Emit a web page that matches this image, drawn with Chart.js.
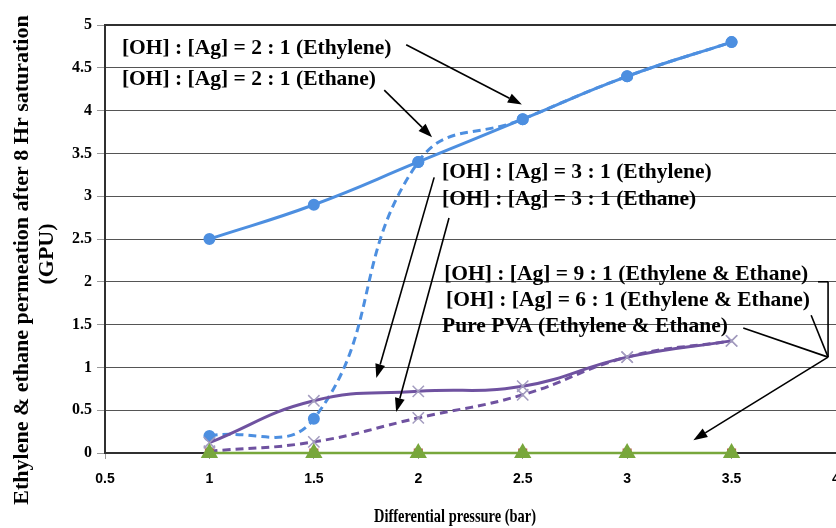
<!DOCTYPE html>
<html><head><meta charset="utf-8">
<script src="https://cdn.jsdelivr.net/npm/chart.js@4.4.1/dist/chart.umd.min.js"></script>
<style>html,body{margin:0;padding:0;overflow:hidden;background:#fff;width:836px;height:528px}canvas{display:block}</style>
</head><body>
<canvas id="c" width="846" height="528"></canvas>
<script>
// ---- data ----
const pressures   = [1, 1.5, 2, 2.5, 3, 3.5];
const ethylene21  = [2.5, 2.9, 3.4, 3.9, 4.4, 4.8];
const ethane21    = [0.2, 0.4, 3.4, 3.9, 4.4, 4.8];
const ethylene31  = [0.12, 0.61, 0.72, 0.78, 1.12, 1.31];
const ethane31    = [0.02, 0.13, 0.41, 0.68, 1.12, 1.31];
const ratio91     = [0, 0, 0, 0, 0, 0];
const ratio61     = [0, 0, 0, 0, 0, 0];
const purePVA     = [0, 0, 0, 0, 0, 0];
const xTickValues = [0.5, 1, 1.5, 2, 2.5, 3, 3.5, 4];
const yTickValues = [0, 0.5, 1, 1.5, 2, 2.5, 3, 3.5, 4, 4.5, 5];
const xTitle = 'Differential pressure (bar)';
const yTitle = ['Ethylene & ethane permeation after 8 Hr saturation', '(GPU)'];

// ---- annotations (data units) ----
const noteTexts = [
  '[OH] : [Ag] = 2 : 1 (Ethylene)',
  '[OH] : [Ag] = 2 : 1 (Ethane)',
  '[OH] : [Ag] = 3 : 1 (Ethylene)',
  '[OH] : [Ag] = 3 : 1 (Ethane)',
  '[OH] : [Ag] = 9 : 1 (Ethylene & Ethane)',
  '[OH] : [Ag] = 6 : 1 (Ethylene & Ethane)',
  'Pure PVA (Ethylene & Ethane)'
];
const noteAtX = [0.581, 0.581, 2.114, 2.114, 2.124, 2.133, 2.114];
const noteAtY = [4.73, 4.36, 3.28, 2.96, 2.09, 1.78, 1.48];
// [x1, y1, x2, y2, arrowhead]
const noteLines = [
  [1.942, 4.77, 2.496, 4.07, 1],
  [1.837, 4.24, 2.066, 3.69, 1],
  [2.076, 3.22, 1.799, 0.876, 1],
  [2.147, 2.745, 1.894, 0.479, 1],
  [3.914, 2.0, 3.962, 2.0, 0],
  [3.962, 2.0, 3.962, 1.12, 0],
  [3.881, 1.61, 3.962, 1.12, 0],
  [3.556, 1.46, 3.962, 1.12, 0],
  [3.962, 1.12, 3.317, 0.15, 1]
];

const pts = arr => pressures.map((p, i) => ({x: p, y: arr[i]}));
const BLUE = '#4d8fe0', PURPLE = '#6f52a0', XMARK = '#a39cbf', GREEN = '#78a73c';
const SERIF = '"Liberation Serif", "Times New Roman", serif';
const SANS = '"Liberation Sans", Arial, sans-serif';

const decor = {
  id: 'decor',
  afterDraw(chart) {
    const {ctx, chartArea: a, scales: {x, y}} = chart;
    ctx.save();
    // top border of plot area
    ctx.strokeStyle = '#303030'; ctx.lineWidth = 2;
    ctx.beginPath(); ctx.moveTo(a.left - 1, a.top); ctx.lineTo(a.right + 10, a.top); ctx.stroke();
    // annotation lines
    ctx.strokeStyle = '#000'; ctx.fillStyle = '#000'; ctx.lineWidth = 1.6;
    noteLines.forEach(([x1, y1, x2, y2, head]) => {
      const X1 = x.getPixelForValue(x1), Y1 = y.getPixelForValue(y1);
      const X2 = x.getPixelForValue(x2), Y2 = y.getPixelForValue(y2);
      const ang = Math.atan2(Y2 - Y1, X2 - X1);
      const L = head ? 14 : 0;
      ctx.beginPath(); ctx.moveTo(X1, Y1);
      ctx.lineTo(X2 - L * Math.cos(ang), Y2 - L * Math.sin(ang)); ctx.stroke();
      if (head) {
        ctx.beginPath();
        ctx.moveTo(X2, Y2);
        ctx.lineTo(X2 - L * Math.cos(ang) + 5 * Math.sin(ang), Y2 - L * Math.sin(ang) - 5 * Math.cos(ang));
        ctx.lineTo(X2 - L * Math.cos(ang) - 5 * Math.sin(ang), Y2 - L * Math.sin(ang) + 5 * Math.cos(ang));
        ctx.closePath(); ctx.fill();
      }
    });
    // annotation texts
    ctx.font = 'bold 21.5px ' + SERIF; ctx.textAlign = 'left'; ctx.textBaseline = 'middle';
    noteTexts.forEach((t, i) => ctx.fillText(t, x.getPixelForValue(noteAtX[i]), y.getPixelForValue(noteAtY[i])));
    // axis titles
    ctx.save();
    ctx.font = 'bold 19px ' + SERIF; ctx.textAlign = 'center';
    ctx.translate(455, 517); ctx.scale(0.76, 1);
    ctx.fillText(xTitle, 0, 0);
    ctx.restore();
    ctx.font = 'bold 22px ' + SERIF; ctx.textAlign = 'center';
    ctx.translate(22, 260); ctx.rotate(-Math.PI / 2);
    ctx.fillText(yTitle[0], 0, 0);
    ctx.fillText(yTitle[1], 6, 25);
    ctx.restore();
  }
};

new Chart(document.getElementById('c'), {
  type: 'line',
  data: {
    datasets: [
      {label: '[OH] : [Ag] = 9 : 1 (Ethylene & Ethane)', data: pts(ratio91), borderColor: GREEN, borderWidth: 2, clip: false,
       pointStyle: 'rect', pointRadius: 5, backgroundColor: '#c0504d', pointBorderColor: '#c0504d', order: 3},
      {label: '[OH] : [Ag] = 6 : 1 (Ethylene & Ethane)', data: pts(ratio61), borderColor: GREEN, borderWidth: 2, clip: false,
       pointStyle: 'circle', pointRadius: 3, backgroundColor: '#e07b39', pointBorderColor: '#e07b39', order: 2},
      {label: 'Pure PVA (Ethylene & Ethane)', data: pts(purePVA), borderColor: GREEN, borderWidth: 2.5, clip: false,
       pointStyle: 'triangle', pointRadius: 7.5, backgroundColor: GREEN, pointBorderColor: GREEN, order: 1},
      {label: '[OH] : [Ag] = 2 : 1 (Ethane)', data: pts(ethane21), borderColor: BLUE, borderWidth: 3, borderDash: [8, 5],
       pointStyle: 'circle', pointRadius: 4.5, backgroundColor: BLUE, pointBorderColor: BLUE, order: 7},
      {label: '[OH] : [Ag] = 2 : 1 (Ethylene)', data: pts(ethylene21), borderColor: BLUE, borderWidth: 3,
       pointStyle: 'circle', pointRadius: 4.5, backgroundColor: BLUE, pointBorderColor: BLUE, order: 6},
      {label: '[OH] : [Ag] = 3 : 1 (Ethane)', data: pts(ethane31), borderColor: PURPLE, borderWidth: 3, borderDash: [8, 5],
       pointStyle: 'crossRot', pointRadius: 8, pointBorderWidth: 1.5, pointBorderColor: XMARK, order: 5},
      {label: '[OH] : [Ag] = 3 : 1 (Ethylene)', data: pts(ethylene31), borderColor: PURPLE, borderWidth: 3,
       pointStyle: 'crossRot', pointRadius: 8, pointBorderWidth: 1.5, pointBorderColor: XMARK, order: 4}
    ]
  },
  options: {
    responsive: false, animation: false,
    elements: {line: {tension: 0.45, fill: false}},
    layout: {padding: {top: 25, right: 8, left: 0, bottom: 0}},
    plugins: {legend: {display: false}, tooltip: {enabled: false}},
    scales: {
      x: {
        type: 'linear', min: 0.5, max: 4,
        afterBuildTicks: s => { s.ticks = xTickValues.map(v => ({value: v})); },
        afterFit: s => { s.height = 75; s.paddingLeft = 0; s.paddingRight = 0; },
        border: {display: true, color: '#303030', width: 2},
        grid: {drawOnChartArea: false, drawTicks: true, tickLength: 6, tickColor: '#999'},
        ticks: {padding: 12, color: '#000', font: {family: SANS, size: 14, weight: 'bold'}, maxRotation: 0,
                callback: v => String(v)}
      },
      y: {
        min: 0, max: 5,
        afterBuildTicks: s => { s.ticks = yTickValues.map(v => ({value: v})); },
        afterFit: s => { s.width = 105; s.paddingTop = 0; s.paddingBottom = 0; },
        border: {display: true, color: '#303030', width: 2},
        grid: {
          color: c => (c.tick && (c.tick.value === 0 || c.tick.value === 5)) ? 'rgba(0,0,0,0)' : '#555',
          borderDash: [1.5, 1.5], lineWidth: 1, tickLength: 8, tickColor: '#999', tickBorderDash: []
        },
        ticks: {padding: 5, color: '#000', font: {family: SERIF, size: 16, weight: 'bold'}, callback: v => String(v)}
      }
    }
  },
  plugins: [decor]
});
</script>
</body></html>
